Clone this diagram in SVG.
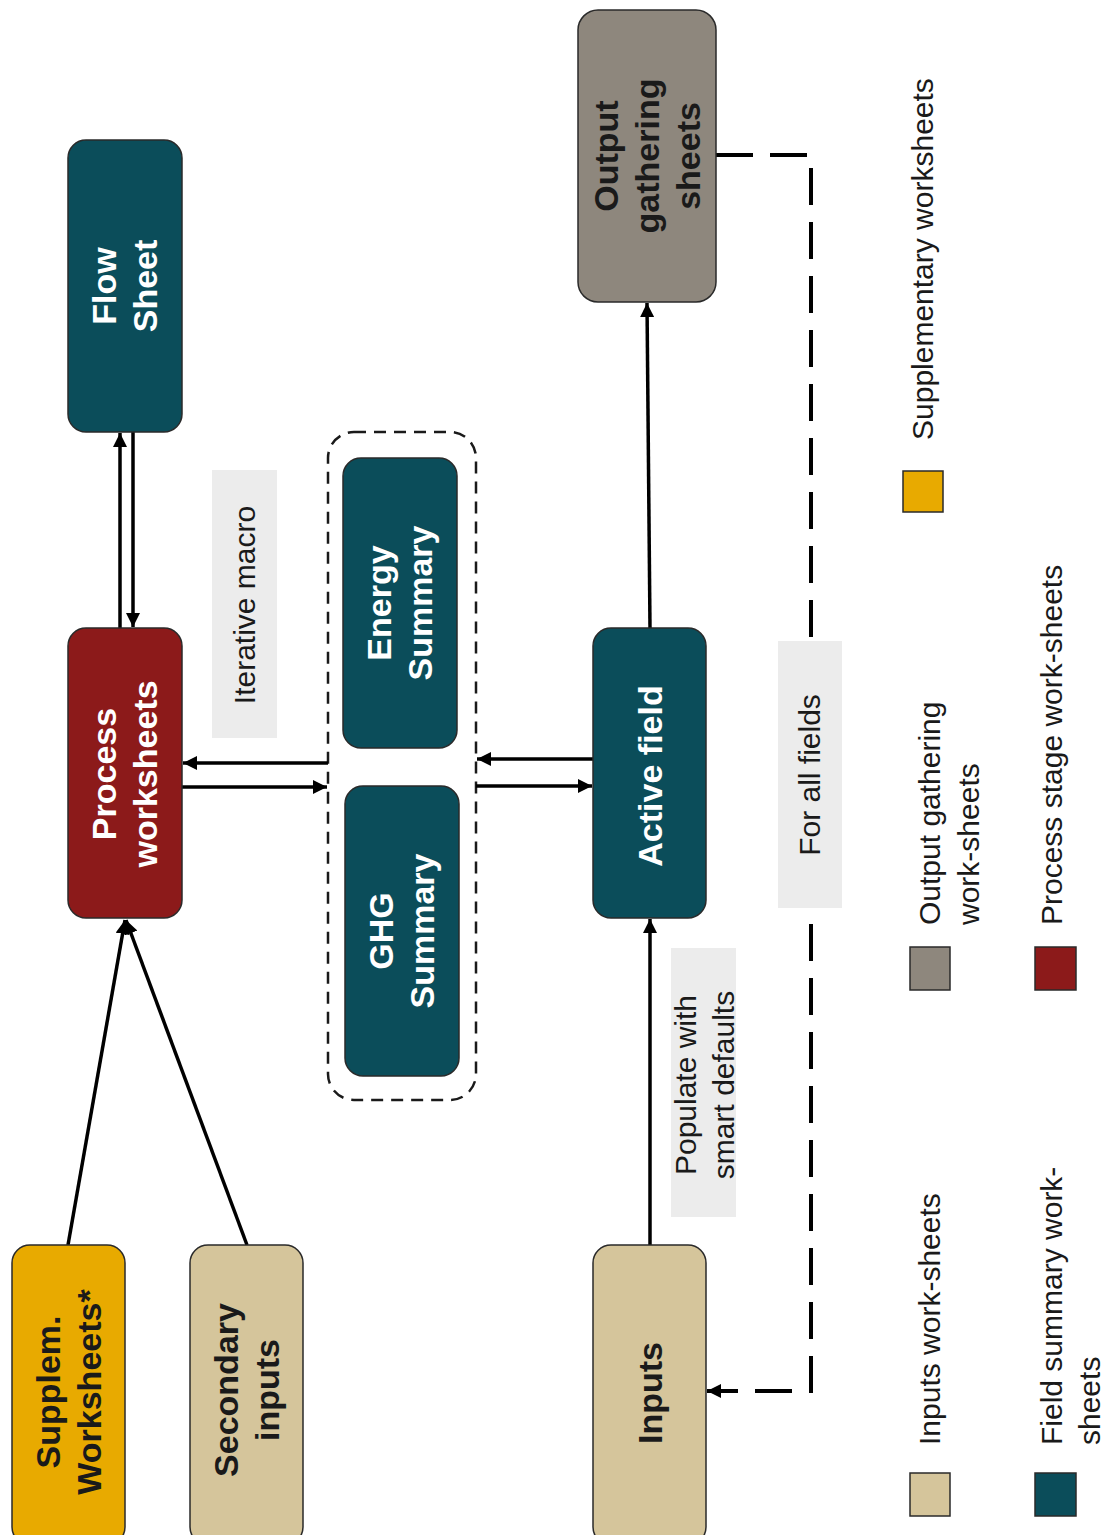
<svg xmlns="http://www.w3.org/2000/svg" width="1106" height="1535" viewBox="0 0 1106 1535">
  <style>
    .box { stroke: #2a2a2a; stroke-width: 1.5; }
    .teal { fill: #0b4d5a; }
    .red { fill: #8c1a1a; }
    .gold { fill: #e8aa00; }
    .tan { fill: #d5c59b; }
    .grey { fill: #8e877d; }
    .tb { font-family: "Liberation Sans", Arial, sans-serif; font-weight: bold; font-size: 34px; }
    .tl { font-family: "Liberation Sans", Arial, sans-serif; font-size: 30px; fill: #1a1a1a; }
    .white { fill: #ffffff; }
    .dark { fill: #1a1a1a; }
    .lblbg { fill: #ececec; }
    .conn { fill: none; stroke: #000; stroke-width: 3.5; }
    .dash { fill: none; stroke: #000; stroke-width: 4; stroke-dasharray: 37 17; }
    .grp { fill: none; stroke: #1a1a1a; stroke-width: 2.5; stroke-dasharray: 12 8; }
  </style>
  <defs>
    <marker id="arrow" viewBox="0 0 10 10" refX="10" refY="5" markerWidth="14" markerHeight="14" markerUnits="userSpaceOnUse" orient="auto">
      <path d="M0,0 L10,5 L0,10 z" fill="#000"/>
    </marker>
  </defs>
  <rect width="1106" height="1535" fill="#ffffff"/>

  <!-- summary group outline -->
  <rect id="summary-group" class="grp" x="328" y="432" width="148" height="668" rx="26"/>

  <!-- connectors -->
  <g id="connectors">
    <path class="conn" d="M120,628 L120,433" marker-end="url(#arrow)"/>
    <path class="conn" d="M133,432 L133,627" marker-end="url(#arrow)"/>
    <path class="conn" d="M328,763 L183,763" marker-end="url(#arrow)"/>
    <path class="conn" d="M182,787 L327,787" marker-end="url(#arrow)"/>
    <path class="conn" d="M593,759 L477,759" marker-end="url(#arrow)"/>
    <path class="conn" d="M476,786 L592,786" marker-end="url(#arrow)"/>
    <path class="conn" d="M68,1245 L125,920" marker-end="url(#arrow)"/>
    <path class="conn" d="M247,1245 L126,920" marker-end="url(#arrow)"/>
    <path class="conn" d="M650,1245 L650,919" marker-end="url(#arrow)"/>
    <path class="conn" d="M650,628 L647,303" marker-end="url(#arrow)"/>
    <path class="dash" d="M716,155 L811,155 L811,1391 L707,1391" marker-end="url(#arrow)"/>
  </g>

  <!-- nodes -->
  <g id="flow-sheet">
    <rect class="box teal" x="68" y="140" width="114" height="292" rx="18"/>
    <text class="tb white" transform="rotate(-90)" text-anchor="middle"><tspan x="-286" y="116">Flow</tspan><tspan x="-286" y="157">Sheet</tspan></text>
  </g>
  <g id="process-worksheets">
    <rect class="box red" x="68" y="628" width="114" height="290" rx="18"/>
    <text class="tb white" transform="rotate(-90)" text-anchor="middle"><tspan x="-774" y="116">Process</tspan><tspan x="-774" y="157">worksheets</tspan></text>
  </g>
  <g id="energy-summary">
    <rect class="box teal" x="343" y="458" width="114" height="290" rx="18"/>
    <text class="tb white" transform="rotate(-90)" text-anchor="middle"><tspan x="-603" y="391">Energy</tspan><tspan x="-603" y="432">Summary</tspan></text>
  </g>
  <g id="ghg-summary">
    <rect class="box teal" x="345" y="786" width="114" height="290" rx="18"/>
    <text class="tb white" transform="rotate(-90)" text-anchor="middle"><tspan x="-931" y="393">GHG</tspan><tspan x="-931" y="434">Summary</tspan></text>
  </g>
  <g id="active-field">
    <rect class="box teal" x="593" y="628" width="113" height="290" rx="18"/>
    <text class="tb white" transform="rotate(-90)" text-anchor="middle" x="-776" y="662">Active field</text>
  </g>
  <g id="output-gathering">
    <rect class="box grey" x="578" y="10" width="138" height="292" rx="20"/>
    <text class="tb dark" transform="rotate(-90)" text-anchor="middle"><tspan x="-156" y="618">Output</tspan><tspan x="-156" y="659">gathering</tspan><tspan x="-156" y="700">sheets</tspan></text>
  </g>
  <g id="supplem-worksheets">
    <rect class="box gold" x="12" y="1245" width="113" height="300" rx="18"/>
    <text class="tb dark" transform="rotate(-90)" text-anchor="middle"><tspan x="-1392" y="60">Supplem.</tspan><tspan x="-1392" y="101">Worksheets*</tspan></text>
  </g>
  <g id="secondary-inputs">
    <rect class="box tan" x="190" y="1245" width="113" height="300" rx="18"/>
    <text class="tb dark" transform="rotate(-90)" text-anchor="middle"><tspan x="-1390" y="238">Secondary</tspan><tspan x="-1390" y="279">inputs</tspan></text>
  </g>
  <g id="inputs">
    <rect class="box tan" x="593" y="1245" width="113" height="300" rx="18"/>
    <text class="tb dark" transform="rotate(-90)" text-anchor="middle" x="-1393" y="662">Inputs</text>
  </g>

  <!-- connector labels -->
  <g id="label-iterative-macro">
    <rect class="lblbg" x="212" y="470" width="65" height="268"/>
    <text class="tl" transform="rotate(-90)" text-anchor="middle" x="-605" y="255">Iterative macro</text>
  </g>
  <g id="label-populate">
    <rect class="lblbg" x="671" y="948" width="65" height="269"/>
    <text class="tl" transform="rotate(-90)" text-anchor="middle"><tspan x="-1085" y="696">Populate with</tspan><tspan x="-1085" y="734">smart defaults</tspan></text>
  </g>
  <g id="label-for-all-fields">
    <rect class="lblbg" x="778" y="641" width="64" height="267"/>
    <text class="tl" transform="rotate(-90)" text-anchor="middle" x="-775" y="820">For all fields</text>
  </g>

  <!-- legend -->
  <g id="legend">
    <g id="legend-supplementary">
      <rect class="box gold" x="903" y="471" width="40" height="41"/>
      <text class="tl" transform="rotate(-90)" x="-440" y="933">Supplementary worksheets</text>
    </g>
    <g id="legend-output">
      <rect class="box grey" x="910" y="947" width="40" height="43"/>
      <text class="tl" transform="rotate(-90)"><tspan x="-925" y="940">Output gathering</tspan><tspan x="-925" y="979">work-sheets</tspan></text>
    </g>
    <g id="legend-process">
      <rect class="box red" x="1035" y="947" width="41" height="43"/>
      <text class="tl" transform="rotate(-90)" x="-925" y="1062">Process stage work-sheets</text>
    </g>
    <g id="legend-inputs">
      <rect class="box tan" x="910" y="1473" width="40" height="43"/>
      <text class="tl" transform="rotate(-90)" x="-1445" y="940">Inputs work-sheets</text>
    </g>
    <g id="legend-field-summary">
      <rect class="box teal" x="1035" y="1473" width="41" height="43"/>
      <text class="tl" transform="rotate(-90)"><tspan x="-1445" y="1062">Field summary work-</tspan><tspan x="-1445" y="1100">sheets</tspan></text>
    </g>
  </g>
</svg>
